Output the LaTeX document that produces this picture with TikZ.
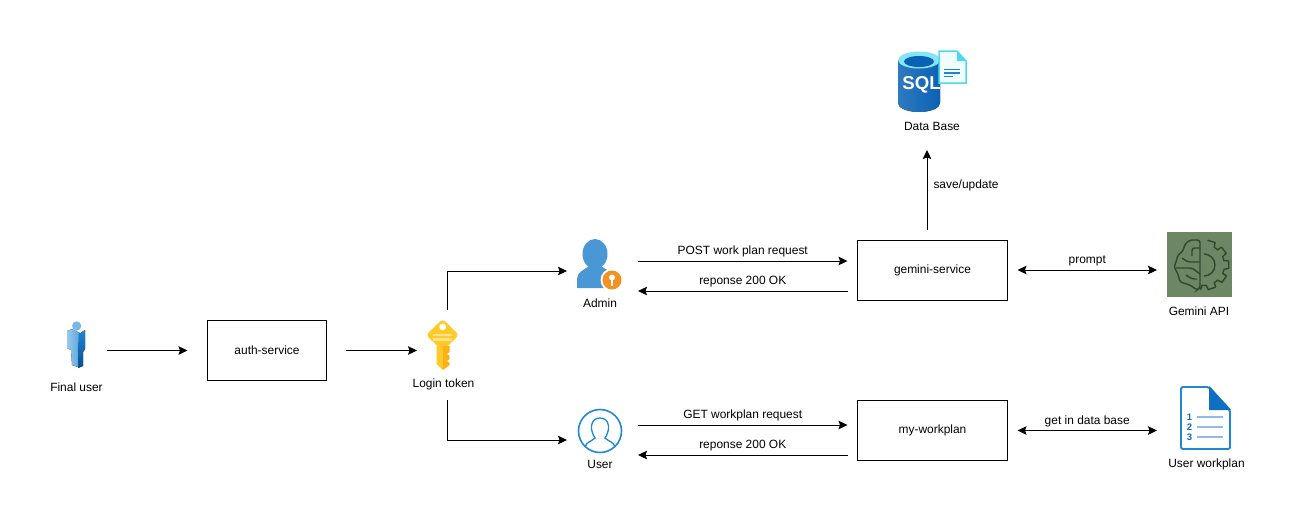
\documentclass[tikz,border=0pt]{standalone}
\usepackage{fontspec}
\setmainfont{Liberation Sans}
\usetikzlibrary{arrows.meta,positioning,calc}
\definecolor{iconblue}{HTML}{1E88D2}
\definecolor{adminblue}{HTML}{4A97D5}
\definecolor{keyyellow}{HTML}{FFCA28}
\definecolor{keydark}{HTML}{F9B215}
\definecolor{keylight}{HTML}{FFE38A}
\definecolor{badgeorange}{HTML}{F39220}
\definecolor{sqlblue}{HTML}{0A62B4}
\definecolor{sqldark}{HTML}{084C92}
\definecolor{sqlcyan}{HTML}{50D8F0}
\definecolor{apigreen}{HTML}{6D8764}
\definecolor{apidark}{HTML}{2C4A30}
\definecolor{planlight}{HTML}{8FBCEB}
\definecolor{plandark}{HTML}{0F6FC0}
\tikzset{
  txt/.style={font=\fontsize{6.8}{8}\selectfont, inner sep=0pt},
  box/.style={draw, line width=.57pt, txt, minimum width=3cm, minimum height=1.2cm, outer sep=.2cm},
  icon/.style={inner sep=0pt, outer sep=0pt},
  lbl/.style={txt, above=.07cm},
  link/.style={->, line width=.57pt}
}
\begin{document}
\begin{tikzpicture}[x=.02cm, y=-.02cm, >={Stealth[length=.18cm,width=.17cm,inset=.03cm]}]
\useasboundingbox (0,0) rectangle (1295,522);

% boxes
\node[box, minimum width=2.4cm, outer sep=.39cm] (auth) at (267,350.5) {auth-service};
\node[box] (gemini) at (932.5,270) {gemini-service};
\node[box] (myplan) at (932.5,430.5) {my-workplan};

% icon places
\node[icon, minimum width=1.24cm, minimum height=1cm] (finaluser) at (76,350.5) {};
\node[icon, minimum width=1.2cm, minimum height=1.8cm] (loginkey) at (447,355) {};
\node[icon, minimum width=1.42cm, minimum height=1cm] (admin) at (602.5,276) {};
\node[icon, minimum width=1.42cm, minimum height=1cm] (user) at (602.5,440) {};
\node[icon, minimum width=1.4cm, minimum height=2cm] (database) at (932,100) {};
\node[icon, fill=apigreen, minimum size=1.3cm, outer sep=.2cm] (api) at (1199.5,264.5) {};
\node[icon, minimum width=1.92cm, minimum height=1.3cm] (workplan) at (1205,418) {};

% connectors
\draw[link] (finaluser.east) -- (auth.west);
\draw[link] (auth.east) -- (auth.east -| loginkey.west);
\draw[link] (loginkey.north) |- ([yshift=.1cm]admin.west);
\draw[link] (loginkey.south) |- (user.west);
\draw[link] ([yshift=.3cm]admin.east) -- ([yshift=.3cm]admin.east -| gemini.west)
    node[midway, lbl] (postlbl) {POST work plan request};
\draw[link] ([yshift=-.3cm]admin.east -| gemini.west) -- ([yshift=-.3cm]admin.east)
    node[midway, lbl] (resplbla) {reponse 200 OK};
\draw[link] ([yshift=.3cm]user.east) -- ([yshift=.3cm]user.east -| myplan.west)
    node[midway, lbl] (getlbl) {GET workplan request};
\draw[link] ([yshift=-.3cm]user.east -| myplan.west) -- ([yshift=-.3cm]user.east)
    node[midway, lbl] (resplblb) {reponse 200 OK};
\draw[link, <->] (gemini.east) -- (gemini.east -| api.west)
    node[midway, lbl] (promptlbl) {prompt};
\draw[link, <->] (myplan.east) -- (myplan.east -| workplan.west)
    node[midway, lbl] (getdblbl) {get in data base};
\draw[link] ([xshift=-.11cm]gemini.north) -- ([xshift=-.11cm]gemini.north |- database.south)
    node[pos=.56, right=.12cm, txt] (savelbl) {save/update};

% final user
\fill[left color=iconblue!45, right color=iconblue!75] (67,331) -- (72,329) -- (80,333) -- (79,351) -- (78,367) -- (72,365) -- (71,350) -- (67,348) -- cycle;
\fill[top color=iconblue, bottom color=sqldark] (79,334) -- (85,330) -- (85,349) -- (83,352) -- (83,366) -- (78,368) -- cycle;
\fill[iconblue!60] (76.7,326) circle (4.6);

% key
\fill[keyyellow, rounded corners=.07cm] (442.7,319) -- (459,335) -- (442.7,351) -- (426,335) -- cycle;
\fill[keyyellow] (436.5,346) -- (443,346) -- (443,370) -- (436.5,364) -- cycle;
\fill[keydark] (443,346) -- (449.5,346) -- (449.5,352) -- (447,354) -- (449.5,356) -- (449.5,359) -- (447,361) -- (449.5,363) -- (449.5,365) -- (443,370) -- cycle;
\fill[white] (442.7,327) circle (3.4);
\fill[keylight] (433,333.5) rectangle (452,335.5);
\fill[keylight] (433,338) rectangle (452,340.5);

% admin
\fill[adminblue] (595,254) ellipse (12.5 and 15);
\fill[adminblue] (577,288) -- (577,279) .. controls (577,272) and (584,270) .. (589,266) -- (601,266) .. controls (606,270) and (612,271) .. (613,276) -- (613,288) -- cycle;
\fill[white] (612,280) circle (11.5);
\fill[badgeorange] (612,280) circle (9.5);
\fill[white] (612,277.5) circle (3);
\fill[white] (610.8,279) rectangle (613.2,286);

% user
\draw[iconblue, line width=.9pt] (600,431) circle (21.5);
\draw[iconblue, line width=.75pt] (585,447) .. controls (586,442) and (592,441) .. (595,438) .. controls (593,435) and (591,430) .. (591.5,426) .. controls (592,420) and (596,418) .. (600,418) .. controls (604,418) and (608,420) .. (608.5,426) .. controls (609,430) and (607,435) .. (605,438) .. controls (608,441) and (614,442) .. (615,447);

% data base
\fill[left color=sqlblue!85!white, right color=sqlblue] (898,60) -- (898,103) arc[start angle=180, end angle=0, x radius=21, y radius=9] -- (940,60) -- cycle;
\fill[sqlcyan!70!white] (919,60) ellipse (21 and 8.5);
\fill[sqlblue] (919,61.5) ellipse (15 and 5.5);
\node[icon, white, font=\fontsize{10.6}{12}\selectfont\bfseries] (sqltxt) at (921.5,85) {SQL};
\fill[white!92!sqlcyan, draw=sqlcyan, line width=.85pt] (939,51) -- (957,51) -- (966,61) -- (966,83) -- (939,83) -- cycle;
\fill[sqlcyan] (957,51) -- (966,61) -- (957,61) -- cycle;
\draw[sqlblue!70!sqlcyan, line width=.9pt] (944,69.5) -- (960,69.5) (944,73) -- (960,73) (944,76.5) -- (953,76.5);

% gemini api
\begin{scope}[apidark, line width=.8pt, shift={(1204,265)}]
\foreach \a in {-72,-36,0,36,72}
  \draw ($(\a-10:25)$) -- ($(\a+8:25)$) -- ($(\a+12:20.5)$) -- ($(\a+24:20.5)$) -- ($(\a+26:25)$);
\draw (0,-11) arc[start angle=-90, end angle=90, radius=11];
\draw[rounded corners=.05cm] (-4,-25) -- (-14,-25) -- (-19,-21) -- (-21,-14) -- (-26,-10) -- (-28,-3) -- (-30,2) -- (-26,9) -- (-24,17) -- (-14,20) -- (-7,25) -- (-4,23) -- cycle;
\draw[rounded corners=.05cm] (-4,-17) -- (-12,-17) -- (-12,-9) (-4,-3) -- (-16,-3) -- (-22,-7) (-28,3) -- (-12,3) -- (-4,9) (-18,10) -- (-12,14) -- (-7,14);
\end{scope}

% user workplan
\draw[iconblue, line width=1.1pt, fill=white, rounded corners=.04cm] (1181,387) -- (1209,387) -- (1230,410) -- (1230,449) -- (1181,449) -- cycle;
\fill[plandark] (1209,386) -- (1231,410) -- (1209,410) -- cycle;
\foreach \n/\ypos in {1/417,2/427,3/437} {
  \node[icon, text=plandark, font=\fontsize{5.4}{6}\selectfont\bfseries] (num\n) at (1189.5,\ypos) {\n};
  \draw[planlight, line width=1.1pt] (1197,\ypos) -- (1223,\ypos);
}

% names under the icons
\node[txt] (finaluserlbl) at (76.5,387) {Final user};
\node[txt] (loginkeylbl) at (443.5,384.5) {Login token};
\node[txt] (adminlbl) at (600,303) {Admin};
\node[txt] (userlbl) at (600,464) {User};
\node[txt] (databaselbl) at (932,126) {Data Base};
\node[txt] (apilbl) at (1199,311) {Gemini API};
\node[txt] (workplanlbl) at (1206.5,464.5) {User workplan};
\end{tikzpicture}
\end{document}
